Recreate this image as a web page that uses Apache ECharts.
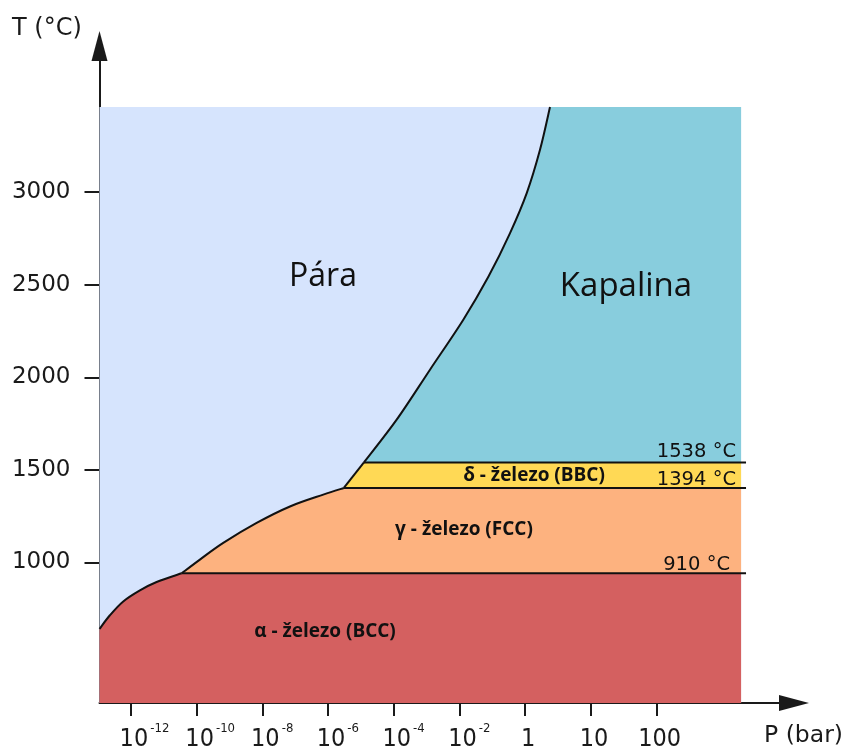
<!DOCTYPE html>
<html>
<head>
<meta charset="utf-8">
<script src="https://cdn.jsdelivr.net/npm/echarts@6/dist/echarts.min.js"></script>
<style>
  html, body { margin: 0; padding: 0; background: #fff; }
  #chart { width: 844px; height: 747px; }
</style>
</head>
<body>
<div id="chart"></div>
<script>
  // x is the tick position (1 = 10^-12 bar ... 9 = 100 bar), ticks are evenly spaced
  var xTickLabels = ['10^-12', '10^-10', '10^-8', '10^-6', '10^-4', '10^-2', '1', '10', '100']
  var xTickValues = [1, 2, 3, 4, 5, 6, 7, 8, 9]
  var yTickValues = [1000, 1500, 2000, 2500, 3000]

  var xMin = 0.522, xMax = 11.09
  var yMin = 240, yMax = 3790
  var fillRight = 10.285, fillTop = 3460, lineRight = 10.36

  // phase boundaries, [x position, T in °C]
  var alphaVapor = [[0.522, 640], [0.68, 714], [0.883, 789], [1.137, 849], [1.391, 894], [1.772, 941]]
  var gammaVapor = [[1.772, 941], [2.050, 1015], [2.405, 1105], [2.913, 1213], [3.420, 1302], [3.927, 1366], [4.24, 1402]]
  var deltaVapor = [[4.24, 1402], [4.546, 1540]]
  var liquidVapor = [[4.546, 1540], [5.044, 1771], [5.551, 2041], [6.058, 2311], [6.441, 2544], [6.769, 2779], [7.023, 2995], [7.225, 3229], [7.377, 3460]]
  var tAlphaGamma = 941, tGammaDelta = 1402, tDeltaLiquid = 1540

  // each region: corners before the curve, the curve, corners after it
  var regions = [
    { color: '#d6e4fd', before: [], curve: [], after: [[xMin, yMin], [fillRight, yMin], [fillRight, fillTop], [xMin, fillTop]] },
    { color: '#88cddd', before: [], curve: liquidVapor, after: [[fillRight, fillTop], [fillRight, tDeltaLiquid]] },
    { color: '#ffd955', before: [], curve: deltaVapor, after: [[fillRight, tDeltaLiquid], [fillRight, tGammaDelta]] },
    { color: '#fdb27f', before: [], curve: gammaVapor, after: [[fillRight, tGammaDelta], [fillRight, tAlphaGamma]] },
    { color: '#d46060', before: [[xMin, yMin]], curve: alphaVapor, after: [[fillRight, tAlphaGamma], [fillRight, yMin]] }
  ]
  var curves = [alphaVapor, gammaVapor, deltaVapor, liquidVapor]
  var flatLines = [
    [[1.772, tAlphaGamma], [lineRight, tAlphaGamma]],
    [[4.24, tGammaDelta], [lineRight, tGammaDelta]],
    [[4.546, tDeltaLiquid], [lineRight, tDeltaLiquid]]
  ]

  // catmull-rom through the points, as cubic bezier commands
  function smoothSegs(p) {
    var d = ''
    for (var i = 0; i < p.length - 1; i++) {
      var p0 = p[Math.max(i - 1, 0)], p1 = p[i], p2 = p[i + 1], p3 = p[Math.min(i + 2, p.length - 1)]
      var c1 = [p1[0] + (p2[0] - p0[0]) / 6, p1[1] + (p2[1] - p0[1]) / 6]
      var c2 = [p2[0] - (p3[0] - p1[0]) / 6, p2[1] - (p3[1] - p1[1]) / 6]
      d += 'C' + c1[0] + ',' + c1[1] + ' ' + c2[0] + ',' + c2[1] + ' ' + p2[0] + ',' + p2[1]
    }
    return d
  }

  function regionPath(r, api) {
    var before = r.before.map(function (p) { return api.coord(p) })
    var curve = r.curve.map(function (p) { return api.coord(p) })
    var after = r.after.map(function (p) { return api.coord(p) })
    var all = before.concat(curve.length ? [curve[0]] : [])
    var d = 'M' + (all.length ? all[0] : after[0]).join(',')
    all.slice(1).forEach(function (p) { d += 'L' + p.join(',') })
    if (curve.length) d += smoothSegs(curve)
    ;(all.length ? after : after.slice(1)).forEach(function (p) { d += 'L' + p.join(',') })
    return d + 'Z'
  }

  var measureCtx = document.createElement('canvas').getContext('2d')
  function textWidth(t, font) {
    measureCtx.font = font
    return measureCtx.measureText(t).width
  }

  var chart = echarts.init(document.getElementById('chart'))

  var flatSeries = flatLines.map(function (b) {
    return {
      type: 'line',
      data: b,
      showSymbol: false,
      silent: true,
      z: 5,
      lineStyle: { color: '#111', width: 2 }
    }
  })

  var bodyFont = '"DejaVu Sans"'
  var labelFont = '"Open Sans"'
  var tickBaseFont = '25px "DejaVu Sans Condensed"'
  var tickSupFont = '13px "DejaVu Sans Condensed"'
  var ink = '#1a1a1a'

  chart.setOption({
    animation: false,
    grid: { left: 99.5, right: 50, top: 46, bottom: 44, containLabel: false, outerBoundsMode: 'none' },
    xAxis: {
      type: 'value',
      min: xMin,
      max: xMax,
      splitLine: { show: false },
      axisLine: {
        onZero: false,
        lineStyle: { color: ink, width: 2 },
        symbol: ['none', 'triangle'],
        symbolSize: [16, 30]
      },
      axisTick: { customValues: xTickValues, length: 13, lineStyle: { color: ink, width: 2 } },
      axisLabel: { show: false }
    },
    yAxis: {
      type: 'value',
      min: yMin,
      max: yMax,
      splitLine: { show: false },
      axisLine: {
        onZero: false,
        lineStyle: { color: ink, width: 2 },
        symbol: ['none', 'triangle'],
        symbolSize: [16, 30]
      },
      axisTick: { customValues: yTickValues, length: 15, lineStyle: { color: ink, width: 2 } },
      axisLabel: {
        customValues: yTickValues,
        margin: 29,
        fontFamily: 'DejaVu Sans',
        fontSize: 23,
        color: ink,
        formatter: function (v) { return String(v) }
      }
    },
    graphic: [
      { type: 'text', x: 12, y: 29, style: { text: 'T (°C)', font: '24px ' + bodyFont, fill: ink, verticalAlign: 'middle' } },
      { type: 'text', x: 764, y: 736, style: { text: 'P (bar)', font: '23.5px ' + bodyFont, fill: ink, verticalAlign: 'middle' } },
      { type: 'text', x: 323, y: 277, z: 10, style: { text: 'Pára', font: '32px ' + labelFont, fill: '#111', align: 'center', verticalAlign: 'middle' } },
      { type: 'text', x: 626, y: 287, z: 10, style: { text: 'Kapalina', font: '33px ' + labelFont, fill: '#111', align: 'center', verticalAlign: 'middle' } },
      { type: 'text', x: 534, y: 476, z: 10, style: { text: 'δ - železo (BBC)', font: 'bold 19px ' + labelFont, fill: '#111', align: 'center', verticalAlign: 'middle' } },
      { type: 'text', x: 464, y: 530, z: 10, style: { text: 'γ - železo (FCC)', font: 'bold 19px ' + labelFont, fill: '#111', align: 'center', verticalAlign: 'middle' } },
      { type: 'text', x: 325, y: 632, z: 10, style: { text: 'α - železo (BCC)', font: 'bold 19px ' + labelFont, fill: '#111', align: 'center', verticalAlign: 'middle' } },
      { type: 'text', x: 736, y: 452, z: 10, style: { text: '1538 °C', font: '19.5px ' + bodyFont, fill: '#111', align: 'right', verticalAlign: 'middle' } },
      { type: 'text', x: 736, y: 480, z: 10, style: { text: '1394 °C', font: '19.5px ' + bodyFont, fill: '#111', align: 'right', verticalAlign: 'middle' } },
      { type: 'text', x: 730, y: 565, z: 10, style: { text: '910 °C', font: '19.5px ' + bodyFont, fill: '#111', align: 'right', verticalAlign: 'middle' } }
    ],
    series: [
      {
        type: 'custom',
        silent: true,
        z: 1,
        data: regions.map(function (r, i) { return [i] }),
        encode: { x: -1, y: -1 },
        renderItem: function (params, api) {
          var r = regions[params.dataIndex]
          return {
            type: 'path',
            shape: { pathData: regionPath(r, api) },
            style: { fill: r.color, stroke: null }
          }
        }
      },
      {
        type: 'custom',
        silent: true,
        z: 5,
        data: curves.map(function (c, i) { return [i] }),
        encode: { x: -1, y: -1 },
        renderItem: function (params, api) {
          var pts = curves[params.dataIndex].map(function (p) { return api.coord(p) })
          return {
            type: 'path',
            shape: { pathData: 'M' + pts[0].join(',') + smoothSegs(pts) },
            style: { fill: null, stroke: '#111', lineWidth: 2 }
          }
        }
      },
      {
        // pressure tick labels with superscript exponents, placed under the axis ticks
        type: 'custom',
        silent: true,
        clip: false,
        z: 6,
        data: xTickValues.map(function (v, i) { return [i] }),
        encode: { x: -1, y: -1 },
        renderItem: function (params, api) {
          var i = params.dataIndex
          var parts = xTickLabels[i].split('^')
          var pt = api.coord([xTickValues[i], yMin])
          var cx = pt[0] + 3, top = pt[1] + 24
          var children = [{
            type: 'text', x: cx, y: top,
            style: { text: parts[0], font: tickBaseFont, fill: ink, align: 'center', verticalAlign: 'top', lineHeight: 25 }
          }]
          if (parts[1]) {
            children.push({
              type: 'text', x: cx + textWidth(parts[0], tickBaseFont) / 2 + 2, y: top - 5,
              style: { text: parts[1], font: tickSupFont, fill: ink, align: 'left', verticalAlign: 'top', lineHeight: 13 }
            })
          }
          return { type: 'group', children: children }
        }
      }
    ].concat(flatSeries)
  })
</script>
</body>
</html>
